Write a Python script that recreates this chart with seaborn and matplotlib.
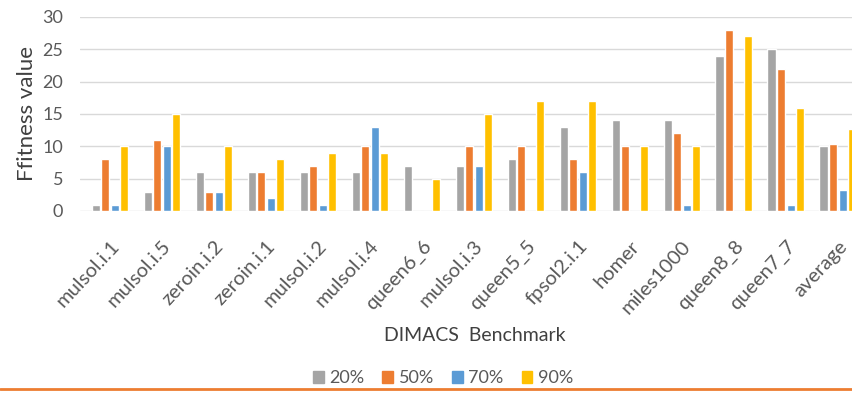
import matplotlib.pyplot as plt
import matplotlib.lines as mlines
import seaborn as sns
import pandas as pd

sns.set_theme(style="white")
plt.rcParams['font.family'] = ['Lato', 'DejaVu Sans']

# datos
benchmarks = ['mulsol.i.1', 'mulsol.i.5', 'zeroin.i.2', 'zeroin.i.1', 'mulsol.i.2',
              'mulsol.i.4', 'queen6_6', 'mulsol.i.3', 'queen5_5', 'fpsol2.i.1',
              'homer', 'miles1000', 'queen8_8', 'queen7_7', 'average']
niveles = ['20%', '50%', '70%', '90%']
v20 = [1, 3, 6, 6, 6, 6, 7, 7, 8, 13, 14, 14, 24, 25, 10]
v50 = [8, 11, 3, 6, 7, 10, 0, 10, 10, 8, 10, 12, 28, 22, 10.4]
v70 = [1, 10, 3, 2, 1, 13, 0, 7, 0, 6, 0, 1, 0, 1, 3.2]
v90 = [10, 15, 10, 8, 9, 9, 5, 15, 17, 17, 10, 10, 27, 16, 12.7]

colores = ['#A5A5A5', '#ED7D31', '#5B9BD5', '#FFC000']

filas = []
for nivel, vals in zip(niveles, [v20, v50, v70, v90]):
    for b, v in zip(benchmarks, vals):
        filas.append({'Benchmark': b, 'Nivel': nivel, 'Valor': v})
df = pd.DataFrame(filas)

fig = plt.figure(figsize=(8.52, 3.94), dpi=100)
ax = fig.add_axes([0.0939, 0.4645, 0.9061, 0.4924])

sns.barplot(data=df, x='Benchmark', y='Valor', hue='Nivel', palette=colores,
            width=0.74, gap=0.16, saturation=1, ax=ax, legend=False, zorder=3)

ax.set_ylim(0, 30)
ax.set_yticks(range(0, 31, 5))
ax.set_xlim(-0.577, 14.27)
ax.grid(axis='y', color='#D9D9D9', linewidth=1, zorder=0)
for s in ax.spines.values():
    s.set_visible(False)

ax.tick_params(axis='both', length=0, colors='#595959')
ax.tick_params(axis='y', pad=12, labelsize=13)
ax.tick_params(axis='x', pad=19, labelsize=14.5)
ax.set_xticks(range(len(benchmarks)))
ax.set_xticklabels(benchmarks, rotation=47, ha='right', rotation_mode='anchor')
ax.set_xlabel('DIMACS  Benchmark', fontsize=14, color='#404040')
ax.xaxis.set_label_coords(0.512, -0.60)
ax.set_ylabel('Ffitness value', fontsize=16, color='#404040', labelpad=4)

handles = [plt.Rectangle((0, 0), 1, 1, color=c) for c in colores]
fig.legend(handles, niveles, loc='center', bbox_to_anchor=(0.52, 0.04), ncol=4,
           frameon=False, fontsize=13, handlelength=0.6, handleheight=0.7,
           handletextpad=0.3, columnspacing=1.0, labelcolor='#595959')

fig.add_artist(mlines.Line2D([0, 1], [0.0127, 0.0127], color='#ED7D31', linewidth=2))

fig.savefig('out.png', dpi=100)
